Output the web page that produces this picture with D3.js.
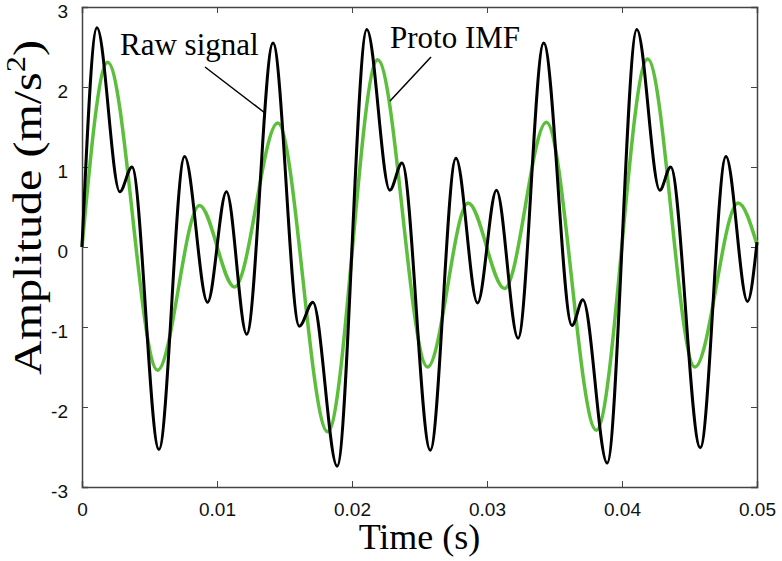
<!DOCTYPE html>
<html>
<head>
<meta charset="utf-8">
<script src="https://cdn.jsdelivr.net/npm/d3@7"></script>
<style>
  body { margin: 0; background: #fff; }
  .tick text { font-family: "Liberation Sans", Arial, sans-serif; font-size: 19px; fill: #111; }
  .title { font-family: "Liberation Serif", "Times New Roman", serif; fill: #000; }
</style>
</head>
<body>
<div id="chart"></div>
<script>
// Raw signal: extrema (time in s, amplitude in m/s^2)
const rawTime = [0, 0.00111, 0.0028, 0.0037, 0.0057, 0.0076, 0.0093, 0.0107, 0.0122, 0.01415,
  0.0161, 0.0171, 0.0189, 0.0211, 0.0228, 0.0237, 0.0258, 0.0277, 0.0293, 0.0307, 0.0323,
  0.0342, 0.0363, 0.0371, 0.0389, 0.0411, 0.0428, 0.0436, 0.0458, 0.0477, 0.0493, 0.05];
const rawValue = [0, 2.74, 0.69, 1.0, -2.53, 1.13, -0.69, 0.69, -1.09, 2.55,
  -0.99, -0.69, -2.74, 2.72, 0.71, 1.05, -2.54, 1.11, -0.7, 0.71, -1.14,
  2.55, -0.98, -0.66, -2.7, 2.72, 0.71, 1.0, -2.51, 1.13, -0.68, 0.06];

// Proto IMF
const imfTime = [0, 0.0019, 0.0056, 0.0087, 0.0113, 0.0145, 0.0182, 0.0219, 0.0256,
  0.0286, 0.0313, 0.0344, 0.0381, 0.0419, 0.0454, 0.0486, 0.05];
const imfValue = [0, 2.31, -1.54, 0.52, -0.5, 1.55, -2.31, 2.34, -1.5,
  0.55, -0.52, 1.56, -2.29, 2.35, -1.5, 0.55, 0.03];

const xTicks = [0, 0.01, 0.02, 0.03, 0.04, 0.05];
const yTicks = [-3, -2, -1, 0, 1, 2, 3];

const margin = { top: 7, right: 25, bottom: 74, left: 82 };
const width = 782 - margin.left - margin.right;
const height = 561 - margin.top - margin.bottom;

const svg = d3.select("#chart")
  .append("svg")
  .attr("width", 782)
  .attr("height", 561)
  .append("g")
  .attr("transform", `translate(${margin.left},${margin.top})`);

const x = d3.scaleLinear().domain([0, 0.05]).range([0, width]);
const y = d3.scaleLinear().domain([-3, 3]).range([height, 0]);

const axisColor = "#444";

// axes with inward ticks
const xAxis = svg.append("g")
  .attr("transform", `translate(0,${height})`)
  .call(d3.axisBottom(x).tickValues(xTicks).tickSize(-6).tickPadding(16)
    .tickFormat(d => d === 0 ? "0" : d.toFixed(2)));
const yAxis = svg.append("g")
  .call(d3.axisLeft(y).tickValues(yTicks).tickSize(-6).tickPadding(14).tickFormat(d => String(d)));
yAxis.selectAll(".tick text").attr("dy", "0.55em");
const xTop = svg.append("g")
  .call(d3.axisTop(x).tickValues(xTicks).tickSize(-6).tickFormat(""));
const yRight = svg.append("g")
  .attr("transform", `translate(${width},0)`)
  .call(d3.axisRight(y).tickValues(yTicks).tickSize(-6).tickFormat(""));

[xAxis, yAxis, xTop, yRight].forEach(g => {
  g.select(".domain").attr("stroke", axisColor).attr("stroke-width", 1.5);
  g.selectAll(".tick line").attr("stroke", axisColor);
});

// Lines
const line = d3.line()
  .x(d => x(d[0]))
  .y(d => y(d[1]))
  .curve(d3.curveMonotoneX);

svg.append("path")
  .datum(imfTime.map((t, i) => [t, imfValue[i]]))
  .attr("fill", "none")
  .attr("stroke", "#5cbf3c")
  .attr("stroke-width", 3.5)
  .attr("d", line);

svg.append("path")
  .datum(rawTime.map((t, i) => [t, rawValue[i]]))
  .attr("fill", "none")
  .attr("stroke", "#000")
  .attr("stroke-width", 3)
  .attr("d", line);

// Annotations
svg.append("text").attr("class", "title")
  .attr("x", 120 - margin.left).attr("y", 55 - margin.top)
  .style("font-size", "31px").text("Raw signal");
svg.append("line")
  .attr("x1", 205 - margin.left).attr("y1", 67 - margin.top)
  .attr("x2", 265 - margin.left).attr("y2", 113 - margin.top)
  .attr("stroke", "#000").attr("stroke-width", 1.5);

svg.append("text").attr("class", "title")
  .attr("x", 390 - margin.left).attr("y", 48 - margin.top)
  .style("font-size", "31px").text("Proto IMF");
svg.append("line")
  .attr("x1", 431 - margin.left).attr("y1", 57 - margin.top)
  .attr("x2", 390 - margin.left).attr("y2", 101 - margin.top)
  .attr("stroke", "#000").attr("stroke-width", 1.5);

// Axis titles
svg.append("text").attr("class", "title")
  .attr("x", width / 2).attr("y", height + 62)
  .attr("text-anchor", "middle")
  .style("font-size", "36px").text("Time (s)");

// y title runs from y=375 up to about y=30 in the page
const yt = svg.append("text").attr("class", "title")
  .attr("transform", `translate(${-41},${375 - margin.top}) rotate(-90)`)
  .attr("text-anchor", "start")
  .attr("textLength", 335)
  .attr("lengthAdjust", "spacingAndGlyphs")
  .style("font-size", "40px");
yt.append("tspan").text("Amplitude (m/s");
yt.append("tspan").attr("dy", -16).style("font-size", "27px").text("2");
yt.append("tspan").attr("dy", 16).text(")");
</script>
</body>
</html>
